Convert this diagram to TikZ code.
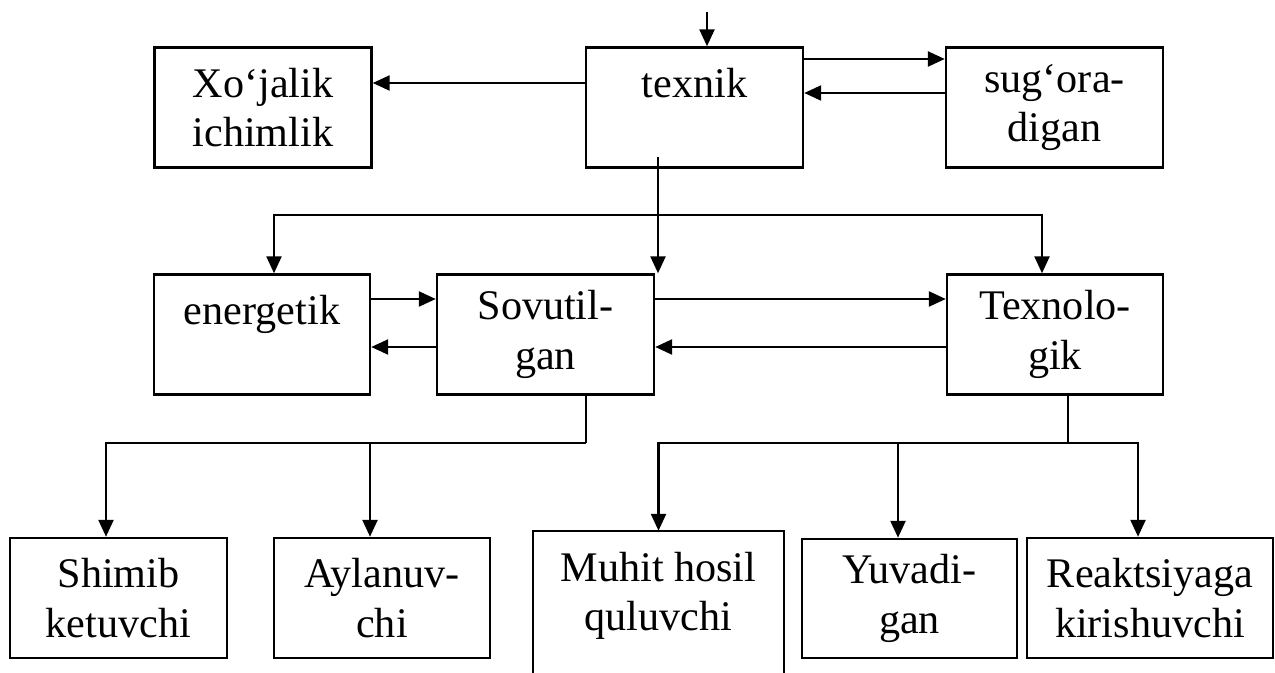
\documentclass[tikz,border=0pt]{standalone}
\usepackage{fontspec}
\setmainfont{Liberation Serif}
\usepackage{tikz}
\usetikzlibrary{arrows.meta}
\usetikzlibrary{positioning}

\begin{document}
\begin{tikzpicture}[>={Triangle[length=0.34cm,width=0.3cm]}, line width=1.4pt]
  \tikzstyle{every node}=[font=\fontsize{24}{28}\selectfont, align=center, inner sep=0pt]
  \tikzstyle{box}=[draw, rectangle, minimum width=4.34cm, minimum height=2.4cm]
  \tikzstyle{stub}=[line width=0.8pt]
  \useasboundingbox (0,0) rectangle (25.5,-13.46);
  % top row
  \node[box] (xojalik) at (5.26,-2.15) {Xo‘jalik\\ichimlik};
  \node[box] (texnik) at (13.89,-2.15) {texnik\\~};
  \node[box] (sugora) at (21.09,-2.15) {sug‘ora-\\digan};
  % middle row
  \node[box, minimum width=4.32cm] (energetik) at (5.24,-6.69) {energetik\\~};
  \node[box] (sovutilgan) at (10.91,-6.69) {Sovutil-\\gan};
  \node[box, minimum width=4.32cm] (texnologik) at (21.10,-6.69) {Texnolo-\\gik};
  % bottom row
  \node[box] (shimib) at (2.37,-11.96) {Shimib\\ketuvchi};
  \node[box, minimum width=4.32cm] (aylanuv) at (7.64,-11.96) {Aylanuv-\\chi};
  \node[minimum width=4.98cm, minimum height=2.56cm] (muhit) at (13.17,-11.92) {Muhit hosil\\quluvchi};
  \node[box, minimum width=4.30cm, minimum height=2.38cm] (yuvadi) at (18.19,-11.97) {Yuvadi-\\gan};
  \node[box, minimum width=4.92cm] (reaktsiya) at (23.0,-11.96) {Reaktsiyaga\\kirishuvchi};
  \draw ([yshift=-0.5cm]muhit.south west) -- (muhit.north west) -- (muhit.north east) -- ([yshift=-0.5cm]muhit.south east);

  % connectors, top
  \coordinate (feed) at (14.14,-0.24);
  \draw[->] (feed) -- (feed |- texnik.north);
  \draw[->] ([yshift=0.49cm]texnik.west) -- ([yshift=0.49cm]xojalik.east);
  \draw[->] ([yshift=0.97cm]texnik.east) -- ([yshift=0.97cm]sugora.west);
  \draw[->] ([yshift=0.29cm]sugora.west) -- ([yshift=0.29cm]texnik.east);
  % down to the middle row
  \coordinate (midbus) at (0,-4.30);
  \draw[->] ([xshift=-0.73cm,yshift=0.24cm]texnik.south) -- ([xshift=-0.73cm]texnik.south |- sovutilgan.north);
  \draw[<->] ([xshift=0.24cm]energetik.north) -- ([xshift=0.24cm]energetik.north |- midbus)
    -- ([xshift=-0.26cm]texnologik.north |- midbus) -- ([xshift=-0.26cm]texnologik.north);
  \draw[->] ([yshift=0.71cm]energetik.east) -- ([yshift=0.71cm]sovutilgan.west);
  \draw[->] ([yshift=-0.25cm]sovutilgan.west) -- ([yshift=-0.25cm]energetik.east);
  \draw[->] ([yshift=0.71cm]sovutilgan.east) -- ([yshift=0.71cm]texnologik.west);
  \draw[->] ([yshift=-0.25cm]texnologik.west) -- ([yshift=-0.25cm]sovutilgan.east);
  % down to the bottom row
  \coordinate (lowbus) at (0,-8.86);
  \draw[stub] ([xshift=0.81cm]sovutilgan.south) -- ([xshift=0.81cm]sovutilgan.south |- lowbus);
  \draw[<-] ([xshift=-0.25cm]shimib.north) |- ([xshift=0.81cm]sovutilgan.south |- lowbus);
  \draw[->] ([xshift=-0.24cm]aylanuv.north |- lowbus) -- ([xshift=-0.24cm]aylanuv.north);
  \draw[stub] ([xshift=0.26cm]texnologik.south) -- ([xshift=0.26cm]texnologik.south |- lowbus);
  \draw[<->] (muhit.north) |- ([xshift=-0.24cm]reaktsiya.north |- lowbus) -- ([xshift=-0.24cm]reaktsiya.north);
  \draw[->] ([xshift=-0.23cm]yuvadi.north |- lowbus) -- ([xshift=-0.23cm]yuvadi.north);
\end{tikzpicture}
\end{document}
